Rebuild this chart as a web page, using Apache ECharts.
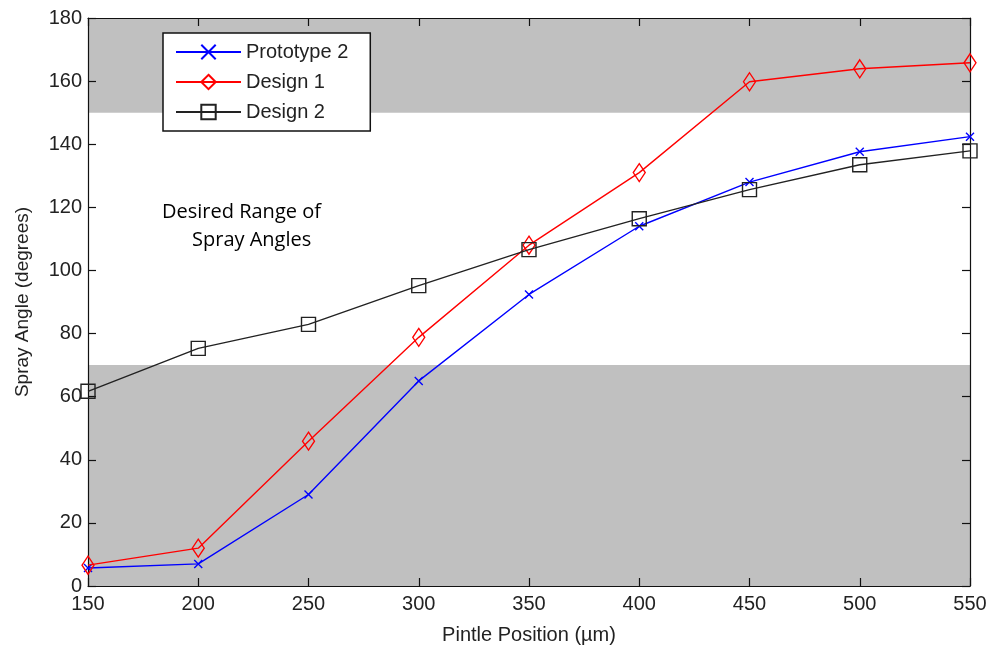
<!DOCTYPE html>
<html>
<head>
<meta charset="utf-8">
<script src="https://cdn.jsdelivr.net/npm/echarts@6/dist/echarts.min.js"></script>
<style>
  html, body { margin: 0; padding: 0; background: #fff; }
  #chart { width: 990px; height: 650px; }
</style>
</head>
<body>
<div id="chart"></div>
<script>
// pintle positions (µm)
const positions = [150, 200, 250, 300, 350, 400, 450, 500, 550]
// spray angles (degrees)
const prototype2 = [5.7, 7, 29, 65, 92.4, 114, 128, 137.6, 142.4]
const design1 = [6.6, 12, 45.9, 78.8, 108, 131, 159.8, 163.9, 165.8]
const design2 = [61.7, 75.3, 82.9, 95.2, 106.6, 116.4, 125.6, 133.5, 137.9]
// shaded (undesired) bands
const lowBand = [0, 70]
const highBand = [150, 180]

const font = '"Liberation Sans", Arial, sans-serif'
const crossPath = 'path://M0,0L10,10M10,0L0,10'

const toPairs = (ys) => positions.map((x, i) => [x, ys[i]])

const chart = echarts.init(document.getElementById('chart'))

const axisCommon = {
  z: 3,
  axisLine: { show: true, onZero: false, lineStyle: { color: '#111', width: 1.2 } },
  axisTick: { show: true, inside: true, length: 8, lineStyle: { color: '#111', width: 1.2 } },
  splitLine: { show: false },
}

chart.setOption({
  animation: false,
  grid: { left: 88, right: 20, top: 18, bottom: 63 },
  legend: {
    orient: 'vertical',
    left: 163,
    top: 33,
    itemWidth: 65,
    itemHeight: 18,
    itemGap: 10,
    padding: [9, 22, 9, 12],
    backgroundColor: '#fff',
    borderColor: '#111',
    borderWidth: 1.5,
    borderRadius: 0,
    z: 10,
    textStyle: { fontFamily: font, fontSize: 20, color: '#222' },
    data: ['Prototype 2', 'Design 1', 'Design 2'],
  },
  xAxis: [
    {
      type: 'value', min: 150, max: 550, interval: 50,
      ...axisCommon,
      axisLabel: { fontFamily: font, fontSize: 20, color: '#222', margin: 8 },
      name: 'Pintle Position (µm)',
      nameLocation: 'middle',
      nameGap: 39,
      nameTextStyle: { fontFamily: font, fontSize: 20, color: '#222' },
    },
    {
      type: 'value', min: 150, max: 550, interval: 50, position: 'top',
      ...axisCommon,
      axisLabel: { show: false },
    },
  ],
  yAxis: [
    {
      type: 'value', min: 0, max: 180, interval: 20,
      ...axisCommon,
      axisLabel: { fontFamily: font, fontSize: 20, color: '#222', margin: 6 },
      name: 'Spray Angle (degrees)',
      nameLocation: 'middle',
      nameGap: 56,
      nameTextStyle: { fontFamily: font, fontSize: 19, color: '#222' },
    },
    {
      type: 'value', min: 0, max: 180, interval: 20, position: 'right',
      ...axisCommon,
      axisLabel: { show: false },
    },
  ],
  graphic: [
    {
      type: 'text', left: 162, top: 202, z: 10,
      style: { text: 'Desired Range of', fontFamily: '"Open Sans", sans-serif', fontSize: 20, fill: '#000' },
    },
    {
      type: 'text', left: 192, top: 230, z: 10,
      style: { text: 'Spray Angles', fontFamily: '"Open Sans", sans-serif', fontSize: 20, fill: '#000' },
    },
  ],
  series: [
    {
      name: 'bands',
      type: 'line',
      data: [],
      silent: true,
      z: 1,
      markArea: {
        silent: true,
        itemStyle: { color: '#c0c0c0' },
        data: [
          [{ yAxis: lowBand[0] }, { yAxis: lowBand[1] }],
          [{ yAxis: highBand[0] }, { yAxis: highBand[1] }],
        ],
      },
    },
    {
      name: 'Prototype 2',
      type: 'line',
      data: toPairs(prototype2),
      symbol: crossPath,
      symbolSize: 8,
      showAllSymbol: true,
      lineStyle: { color: '#0000ff', width: 1.4 },
      itemStyle: { color: 'rgba(0,0,0,0)', borderColor: '#0000ff', borderWidth: 1.4 },
      z: 4,
    },
    {
      name: 'Design 1',
      type: 'line',
      data: toPairs(design1),
      symbol: 'diamond',
      symbolSize: [12, 18],
      showAllSymbol: true,
      lineStyle: { color: '#ff0000', width: 1.4 },
      itemStyle: { color: 'rgba(0,0,0,0)', borderColor: '#ff0000', borderWidth: 1.4 },
      z: 5,
    },
    {
      name: 'Design 2',
      type: 'line',
      data: toPairs(design2),
      symbol: 'rect',
      symbolSize: 14,
      showAllSymbol: true,
      lineStyle: { color: '#222', width: 1.4 },
      itemStyle: { color: 'rgba(0,0,0,0)', borderColor: '#222', borderWidth: 1.4 },
      z: 6,
    },
  ],
})
</script>
</body>
</html>
